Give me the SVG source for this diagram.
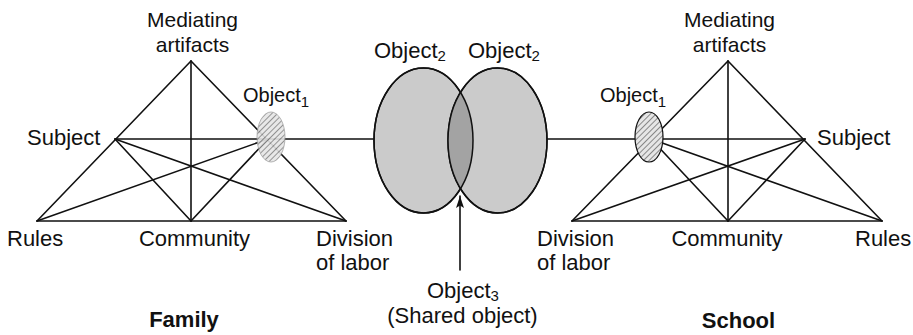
<svg xmlns="http://www.w3.org/2000/svg" width="913" height="335" viewBox="0 0 913 335">
<style>
text{font-family:"Liberation Sans",Arial,sans-serif;font-size:22px;fill:#111}
.b{font-weight:bold}
.m{text-anchor:middle}
.s21{font-size:21px}
.s20{font-size:20px}
.sub{font-size:15px}
.ln{stroke:#111;stroke-width:1.6;fill:none;stroke-linecap:round}
.ov{stroke:#111;stroke-width:1.5}
</style>
<defs>
<pattern id="hatch" width="4" height="4" patternUnits="userSpaceOnUse" patternTransform="rotate(45)">
<rect width="4" height="4" fill="#e6e6e6"/>
<line x1="0" y1="0" x2="0" y2="4" stroke="#555" stroke-width="1.3"/>
</pattern>
<clipPath id="clipL"><ellipse cx="423.5" cy="140.5" rx="49.5" ry="72.5"/></clipPath>
<marker id="arr" markerWidth="12" markerHeight="10" refX="12" refY="5" orient="auto" markerUnits="userSpaceOnUse" viewBox="0 0 12 10">
<path d="M12,5 L0,1 L2.5,5 L0,9 Z" fill="#111"/>
</marker>
</defs>

<g id="connectors">
<!-- left triangle -->
<line class="ln" x1="191" y1="61" x2="37" y2="221"/>
<line class="ln" x1="191" y1="61" x2="346" y2="221"/>
<line class="ln" x1="191" y1="61" x2="191" y2="221"/>
<line class="ln" x1="115" y1="139" x2="268" y2="139"/>
<line class="ln" x1="115" y1="139" x2="191" y2="221"/>
<line class="ln" x1="115" y1="139" x2="346" y2="221"/>
<line class="ln" x1="268" y1="139" x2="191" y2="221"/>
<line class="ln" x1="268" y1="139" x2="37" y2="221"/>
<line class="ln" x1="37" y1="221" x2="346" y2="221"/>
<line class="ln" x1="268" y1="139" x2="374" y2="139"/>
<!-- right triangle -->
<line class="ln" x1="728" y1="61" x2="882" y2="221"/>
<line class="ln" x1="728" y1="61" x2="572" y2="221"/>
<line class="ln" x1="728" y1="61" x2="728" y2="221"/>
<line class="ln" x1="805" y1="139" x2="651" y2="139"/>
<line class="ln" x1="805" y1="139" x2="728" y2="221"/>
<line class="ln" x1="805" y1="139" x2="572" y2="221"/>
<line class="ln" x1="651" y1="139" x2="728" y2="221"/>
<line class="ln" x1="651" y1="139" x2="882" y2="221"/>
<line class="ln" x1="572" y1="221" x2="882" y2="221"/>
<line class="ln" x1="547" y1="139" x2="651" y2="139"/>
</g>

<g id="family-object1">
<ellipse cx="271" cy="137" rx="14" ry="25" fill="url(#hatch)" stroke="#999" stroke-width="0.8" opacity="0.9"/>
<text class="s20" x="243" y="102">Object<tspan class="sub" dy="5">1</tspan></text>
</g>
<g id="family-mediating"><text class="m s21" x="192.5" y="27">Mediating</text><text class="m s21" x="192.5" y="52">artifacts</text></g>
<g id="family-subject"><text x="27" y="145">Subject</text></g>
<g id="family-rules"><text x="7" y="246">Rules</text></g>
<g id="family-community"><text class="m" x="194.5" y="246">Community</text></g>
<g id="family-division"><text x="316" y="246">Division</text><text x="316" y="270">of labor</text></g>
<g id="family-title"><text class="b m" x="184" y="327">Family</text></g>

<g id="object2-family">
<ellipse class="ov" cx="423.5" cy="140.5" rx="49.5" ry="72.5" fill="#cbcbcb"/>
<text x="374" y="58">Object<tspan class="sub" dy="3">2</tspan></text>
</g>
<g id="object2-school">
<ellipse class="ov" cx="497.5" cy="140.5" rx="49.5" ry="72.5" fill="#cbcbcb"/>
<ellipse cx="497.5" cy="140.5" rx="49.5" ry="72.5" fill="#a3a3a3" clip-path="url(#clipL)"/>
<ellipse cx="423.5" cy="140.5" rx="49.5" ry="72.5" fill="none" stroke="#111" stroke-width="1.5"/>
<ellipse cx="497.5" cy="140.5" rx="49.5" ry="72.5" fill="none" stroke="#111" stroke-width="1.5"/>
<text x="468" y="58">Object<tspan class="sub" dy="3">2</tspan></text>
</g>
<g id="object3">
<text x="427" y="298">Object<tspan class="sub" dy="3">3</tspan></text>
<text class="m" x="462.5" y="323">(Shared object)</text>
</g>
<g id="arrow-connector">
<line class="ln" x1="460" y1="270" x2="460" y2="196" marker-end="url(#arr)" stroke-width="1.3"/>
</g>

<g id="school-object1">
<ellipse cx="649" cy="137" rx="14" ry="25" fill="url(#hatch)" stroke="#111" stroke-width="1.2"/>
<text class="s20" x="600" y="102">Object<tspan class="sub" dy="5">1</tspan></text>
</g>
<g id="school-mediating"><text class="m s21" x="729.5" y="27">Mediating</text><text class="m s21" x="729.5" y="52">artifacts</text></g>
<g id="school-subject"><text x="817" y="145">Subject</text></g>
<g id="school-rules"><text x="855" y="246">Rules</text></g>
<g id="school-community"><text class="m" x="727" y="246">Community</text></g>
<g id="school-division"><text x="537" y="246">Division</text><text x="537" y="270">of labor</text></g>
<g id="school-title"><text class="b m" x="738.5" y="328">School</text></g>
</svg>
